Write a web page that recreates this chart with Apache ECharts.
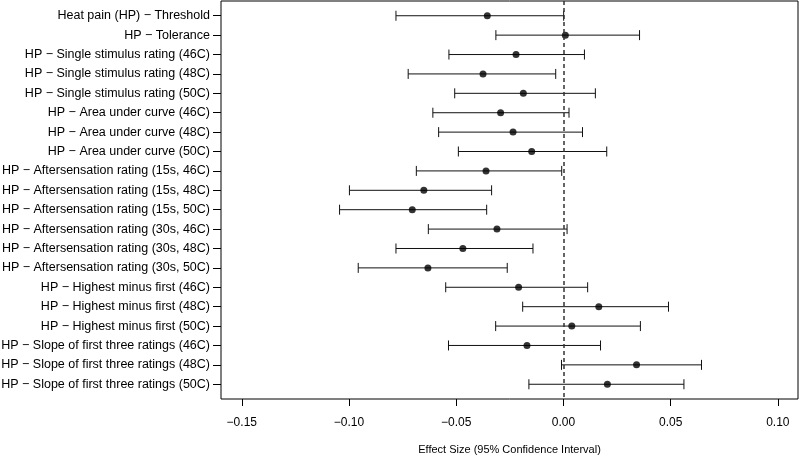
<!DOCTYPE html>
<html>
<head>
<meta charset="utf-8">
<script src="https://cdn.jsdelivr.net/npm/echarts@6/dist/echarts.min.js"></script>
<style>html,body{margin:0;padding:0;background:#fff;}#chart{width:800px;height:457px;}</style>
</head>
<body>
<div id="chart"></div>
<script>
const labels = [
  "Heat pain (HP) − Threshold",
  "HP − Tolerance",
  "HP − Single stimulus rating (46C)",
  "HP − Single stimulus rating (48C)",
  "HP − Single stimulus rating (50C)",
  "HP − Area under curve (46C)",
  "HP − Area under curve (48C)",
  "HP − Area under curve (50C)",
  "HP − Aftersensation rating (15s, 46C)",
  "HP − Aftersensation rating (15s, 48C)",
  "HP − Aftersensation rating (15s, 50C)",
  "HP − Aftersensation rating (30s, 46C)",
  "HP − Aftersensation rating (30s, 48C)",
  "HP − Aftersensation rating (30s, 50C)",
  "HP − Highest minus first (46C)",
  "HP − Highest minus first (48C)",
  "HP − Highest minus first (50C)",
  "HP − Slope of first three ratings (46C)",
  "HP − Slope of first three ratings (48C)",
  "HP − Slope of first three ratings (50C)"
];
const estimates = [-0.0355, 0.0009, -0.0221, -0.0375, -0.0187, -0.0293, -0.0235, -0.0148, -0.0361, -0.0651,
                   -0.0705, -0.0310, -0.0469, -0.0632, -0.0209, 0.0165, 0.0039, -0.0170, 0.0341, 0.0205];
const lowers = [-0.0781, -0.0315, -0.0534, -0.0724, -0.0507, -0.0609, -0.0582, -0.0490, -0.0686, -0.0998,
                -0.1044, -0.0630, -0.0781, -0.0957, -0.0549, -0.0190, -0.0316, -0.0536, -0.0009, -0.0161];
const uppers = [0.0001, 0.0355, 0.0098, -0.0036, 0.0149, 0.0026, 0.0089, 0.0202, -0.0008, -0.0335,
                -0.0358, 0.0017, -0.0142, -0.0262, 0.0113, 0.0490, 0.0359, 0.0173, 0.0644, 0.0562];
const xTicks = [-0.15, -0.10, -0.05, 0.00, 0.05, 0.10];
const xTitle = "Effect Size (95% Confidence Interval)";

const rows = labels.map((_, i) => i + 1);
const ciData = rows.map((r, i) => [lowers[i], uppers[i], r]);
const ptData = rows.map((r, i) => [estimates[i], r]);

const chart = echarts.init(document.getElementById('chart'), null, {renderer: 'canvas'});
const font = 'Liberation Sans, Arial, Helvetica, sans-serif';
chart.setOption({
  animation: false,
  grid: {left: 221, right: 2, top: 1, bottom: 58, show: true, borderColor: '#000', borderWidth: 1,
         backgroundColor: 'transparent', containLabel: false, outerBoundsMode: 'none'},
  xAxis: {
    type: 'value', min: -0.1597, max: 0.1094,
    splitLine: {show: false},
    axisLine: {show: false, onZero: false},
    axisTick: {show: true, length: 7, inside: false, customValues: xTicks, lineStyle: {color: '#000'}},
    axisLabel: {
      customValues: xTicks, margin: 18, fontSize: 12, color: '#000', fontFamily: font,
      formatter: v => (v < 0 ? '−' : '') + Math.abs(v).toFixed(2)
    },
    name: xTitle, nameLocation: 'middle', nameGap: 45,
    nameTextStyle: {fontSize: 11, color: '#000', fontFamily: font}
  },
  yAxis: {
    type: 'value', min: 0.24, max: 20.76, inverse: true,
    splitLine: {show: false},
    axisLine: {show: false, onZero: false},
    axisTick: {show: true, length: 8, inside: false, customValues: rows, lineStyle: {color: '#000'}},
    axisLabel: {
      customValues: rows, margin: 11, fontSize: 12.5, color: '#000', fontFamily: font,
      formatter: v => labels[Math.round(v) - 1] || ''
    }
  },
  series: [
    {
      type: 'custom',
      data: ciData,
      z: 2,
      renderItem: function (params, api) {
        const lo = api.coord([api.value(0), api.value(2)]);
        const hi = api.coord([api.value(1), api.value(2)]);
        const h = 5;
        const style = {stroke: '#111', lineWidth: 1};
        return {
          type: 'group',
          children: [
            {type: 'line', shape: {x1: lo[0], y1: lo[1], x2: hi[0], y2: hi[1]}, style: style},
            {type: 'line', shape: {x1: lo[0], y1: lo[1] - h, x2: lo[0], y2: lo[1] + h}, style: style},
            {type: 'line', shape: {x1: hi[0], y1: hi[1] - h, x2: hi[0], y2: hi[1] + h}, style: style}
          ]
        };
      },
      markLine: {
        silent: true, symbol: 'none', label: {show: false},
        lineStyle: {type: [4, 3], color: '#333', width: 1.5},
        data: [{xAxis: 0}]
      }
    },
    {
      type: 'scatter',
      data: ptData,
      symbol: 'circle', symbolSize: 7,
      itemStyle: {color: '#000'},
      z: 3
    }
  ]
});
</script>
</body>
</html>
